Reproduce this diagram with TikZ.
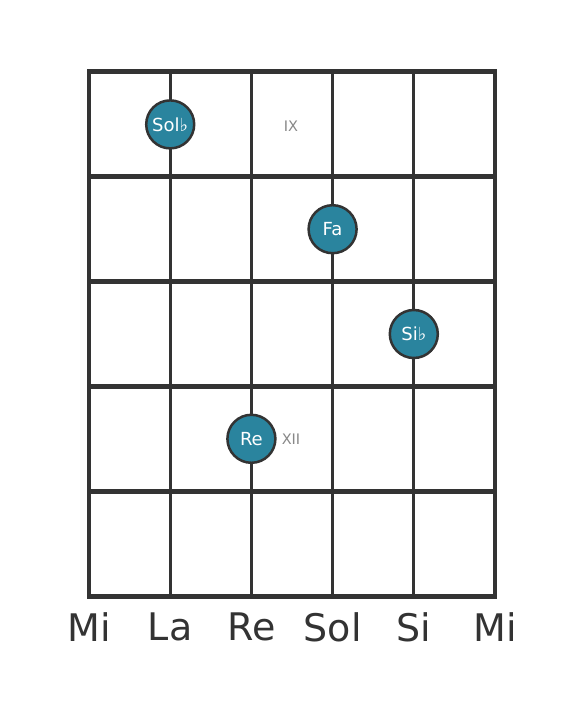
\documentclass[tikz,border=0pt]{standalone}
\usepackage{fontspec}
\setmainfont{DejaVu Sans}
\definecolor{linec}{HTML}{333333}
\definecolor{notec}{HTML}{2A849E}
\definecolor{fretlbl}{HTML}{888888}
\begin{document}
\begin{tikzpicture}[x=1pt,y=-1pt,
  fretline/.style={draw=linec,line width=5pt},
  stringline/.style={draw=linec,line width=3pt},
  notedot/.style={circle,fill=notec,draw=linec,line width=2.5pt,minimum size=48pt,inner sep=0pt,text=white,font=\fontsize{18}{18}\selectfont},
  fretno/.style={text=fretlbl,font=\fontsize{14.5}{14.5}\selectfont},
  strname/.style={text=linec,font=\fontsize{38}{38}\selectfont}]
\useasboundingbox (0,0) rectangle (584,711);
% strings
\foreach \i/\x in {0/89,1/170.2,2/251.4,3/332.6,4/413.8,5/495}{
  \coordinate (st\i) at (\x,72);
  \coordinate (sb\i) at (\x,596);
}
\foreach \i in {1,2,3,4}{ \draw[stringline] (st\i) -- (sb\i); }
\draw[stringline,line width=4pt] (st0) -- (sb0);
\draw[stringline,line width=4pt] (st5) -- (sb5);
% frets
\foreach \j/\y in {0/72,1/176.8,2/281.6,3/386.4,4/491.2,5/596}{
  \coordinate (fl\j) at (87,\y);
  \coordinate (fr\j) at (497,\y);
  \draw[fretline] (fl\j) -- (fr\j);
}
% notes
\node[notedot] (solb) at (170.2,124.4) {Sol♭};
\node[notedot] (fa) at (332.6,229.2) {Fa};
\node[notedot] (sib) at (413.8,334) {Si♭};
\node[notedot] (re) at (251.4,438.8) {Re};
% fret numbers
\node[fretno] (ix) at (291,126) {IX};
\node[fretno] (xii) at (291,439.5) {XII};
% string names
\node[strname] (n0) at (89,627) {Mi};
\node[strname] (n1) at (170.2,627) {La};
\node[strname] (n2) at (251.4,627) {Re};
\node[strname] (n3) at (332.6,627) {Sol};
\node[strname] (n4) at (413.8,627) {Si};
\node[strname] (n5) at (495,627) {Mi};
\end{tikzpicture}
\end{document}
